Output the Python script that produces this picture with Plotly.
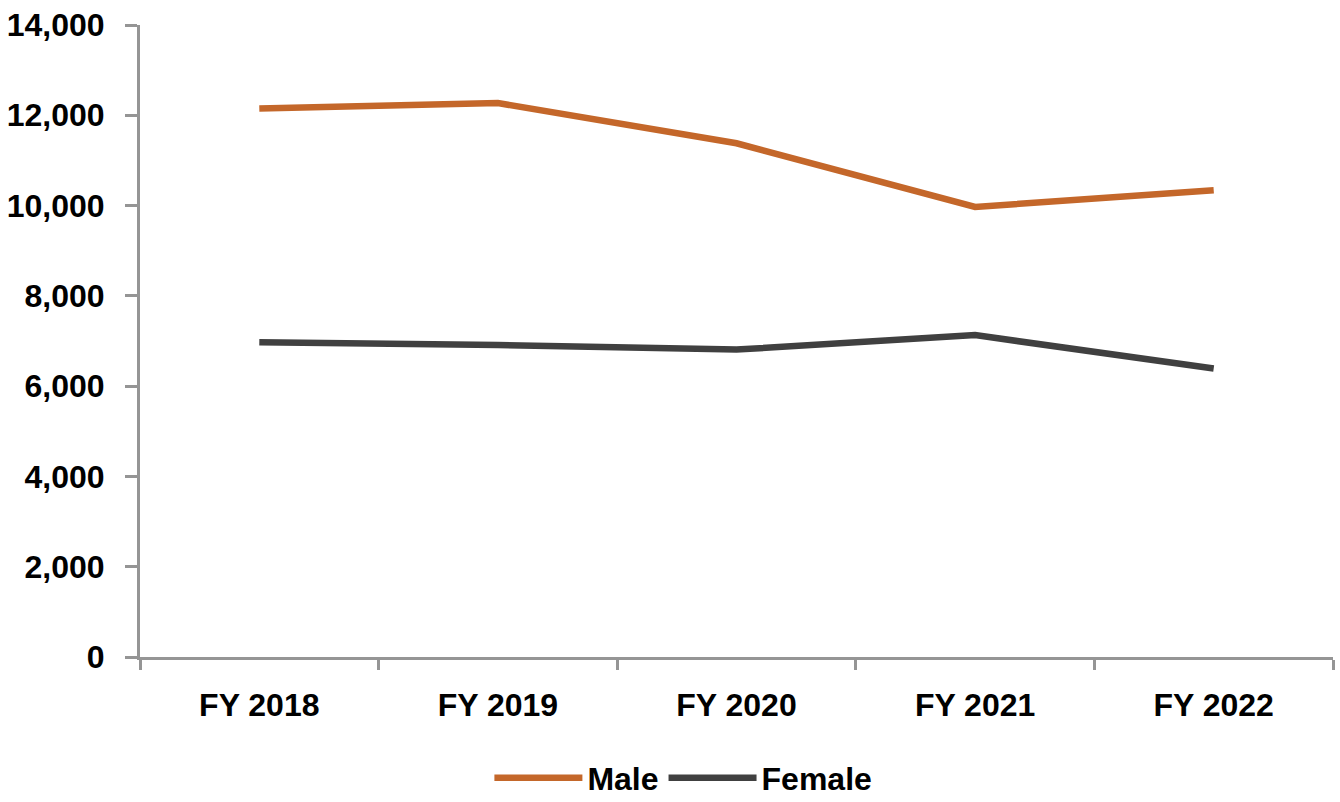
import plotly.graph_objects as go

years = ["FY 2018", "FY 2019", "FY 2020", "FY 2021", "FY 2022"]
male = [12150, 12270, 11380, 9970, 10340]
female = [6970, 6910, 6810, 7130, 6390]

FONT = "Liberation Sans Narrow, Arial Narrow, Liberation Sans, sans-serif"
AXIS_GREY = "#959595"
LABEL_FONT = dict(family=FONT, size=32, color="black", weight="bold")

fig = go.Figure()
fig.add_trace(go.Scatter(x=years, y=male, mode="lines", name="Male",
                         line=dict(color="#C4672A", width=6.5)))
fig.add_trace(go.Scatter(x=years, y=female, mode="lines", name="Female",
                         line=dict(color="#404040", width=6.5)))

fig.update_layout(
    width=1340, height=802,
    margin=dict(l=140, r=7, t=25, b=145, autoexpand=False),
    paper_bgcolor="white", plot_bgcolor="white",
    font=LABEL_FONT,
    showlegend=True,
    legend=dict(orientation="h", x=0.51, xanchor="center", xref="container",
                y=0.03, yanchor="middle", yref="container", itemwidth=88,
                font=LABEL_FONT),
)
fig.update_xaxes(
    type="category", range=[-0.5, 4.5], tickson="boundaries",
    showline=True, linecolor=AXIS_GREY, linewidth=3,
    ticks="outside", ticklen=10, tickwidth=3, tickcolor=AXIS_GREY,
    ticklabelstandoff=18, automargin=False,
    showgrid=False, zeroline=False, tickfont=LABEL_FONT,
)
fig.update_yaxes(
    range=[0, 14000], dtick=2000, tickformat=",",
    showline=True, linecolor=AXIS_GREY, linewidth=3,
    ticks="outside", ticklen=12, tickwidth=3, tickcolor=AXIS_GREY,
    ticklabelstandoff=14, automargin=False,
    showgrid=False, zeroline=False, tickfont=LABEL_FONT,
)

fig.write_html("out.html")
